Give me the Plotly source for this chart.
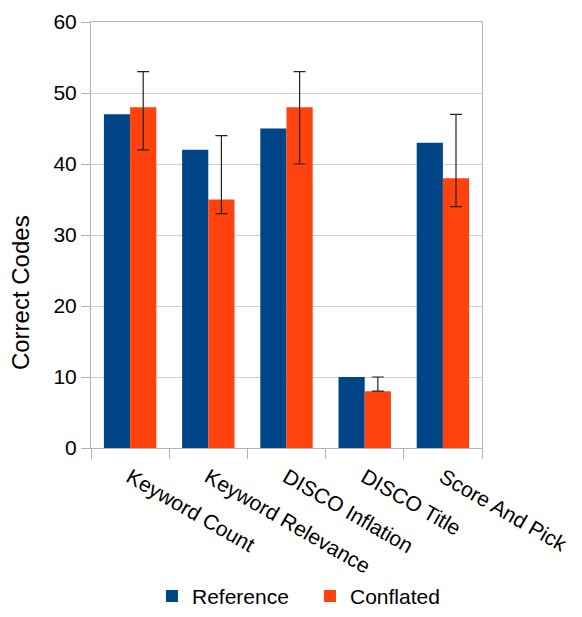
import plotly.graph_objects as go

categories = ["Keyword Count", "Keyword Relevance", "DISCO Inflation", "DISCO Title", "Score And Pick"]
reference = [47, 42, 45, 10, 43]
conflated = [48, 35, 48, 8, 38]
conf_err_plus = [5, 9, 5, 2, 9]
conf_err_minus = [6, 2, 8, 0, 4]
y_ticks = [0, 10, 20, 30, 40, 50, 60]

FONT = "Liberation Sans, Arial, sans-serif"

fig = go.Figure()
fig.add_trace(go.Bar(
    name="Reference", x=categories, y=reference,
    marker=dict(color="#004586", line=dict(width=0)),
))
fig.add_trace(go.Bar(
    name="Conflated", x=categories, y=conflated,
    marker=dict(color="#ff420e", line=dict(width=0)),
    error_y=dict(type="data", symmetric=False, array=conf_err_plus,
                 arrayminus=conf_err_minus, color="#222222", thickness=1.2, width=6),
))

fig.update_layout(
    width=566, height=601,
    margin=dict(l=83, r=92, t=14, b=161, autoexpand=False),
    paper_bgcolor="white", plot_bgcolor="white",
    barmode="group", bargap=0.33, bargroupgap=0,
    font=dict(family=FONT, size=21, color="#000000"),
    legend=dict(orientation="h", x=0.56, xanchor="center", y=-0.348, yanchor="middle",
                font=dict(size=21), itemwidth=30, traceorder="normal",
                entrywidth=113, entrywidthmode="pixels"),
    showlegend=True,
    annotations=[dict(text="Correct Codes", xref="paper", yref="paper",
                      x=-0.1816, y=0.366, xanchor="center", yanchor="middle",
                      textangle=-90, showarrow=False, font=dict(size=24))],
)
fig.update_xaxes(
    type="category", tickangle=30, tickson="boundaries",
    ticks="outside", ticklen=10, tickcolor="#b3b3b3",
    showline=True, linecolor="#b3b3b3", linewidth=1, mirror=True,
    showgrid=False, tickfont=dict(size=21), automargin=False,
    ticklabelstandoff=8,
)
fig.update_yaxes(
    range=[0, 60], tickvals=y_ticks,
    ticks="outside", ticklen=9, tickcolor="#b3b3b3",
    showline=True, linecolor="#b3b3b3", linewidth=1, mirror=True,
    showgrid=True, gridcolor="#d0d0d0", gridwidth=1,
    tickfont=dict(size=21), automargin=False,
    zeroline=False,
)

fig.write_html("out.html")
